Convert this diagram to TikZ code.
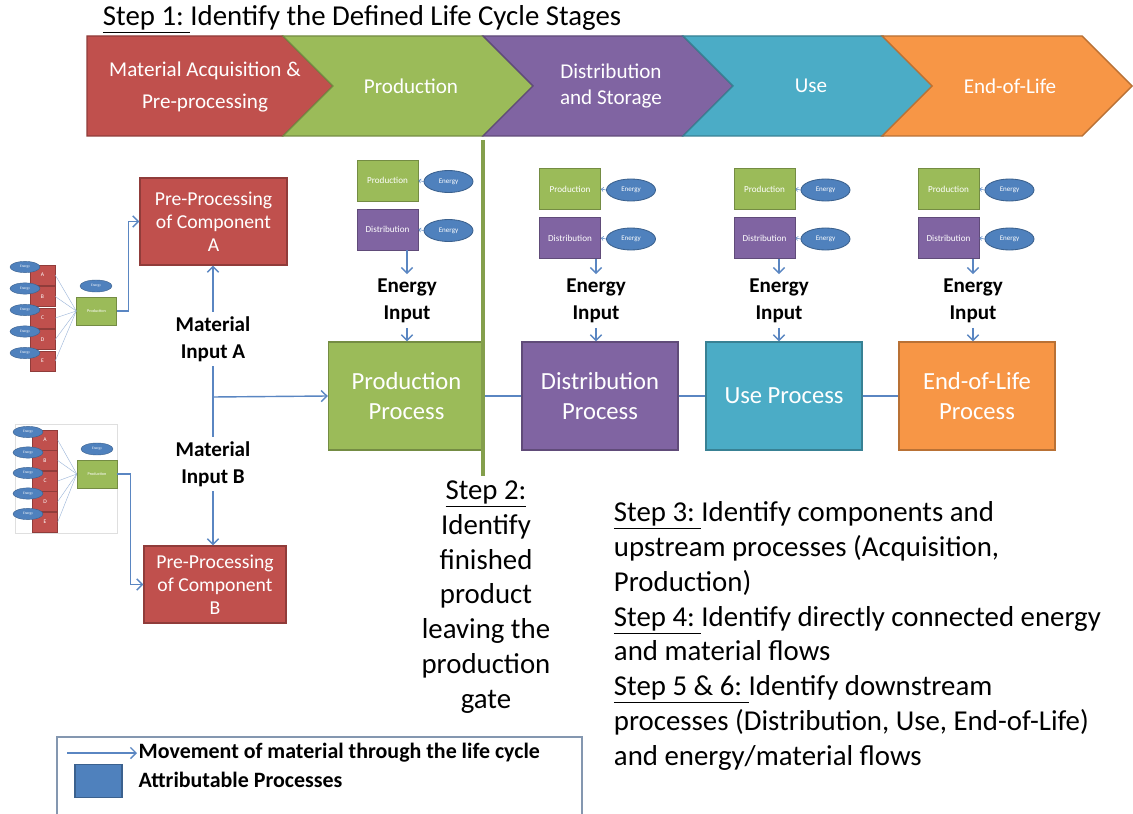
\documentclass[tikz,border=0pt]{standalone}
\usepackage{fontspec}
\setmainfont{Carlito}
\usetikzlibrary{arrows.meta,shapes.geometric}

% theme colours
\definecolor{stagered}{HTML}{C0504D}
\definecolor{stagegreen}{HTML}{9BBB59}
\definecolor{stagepurple}{HTML}{8064A2}
\definecolor{stagecyan}{HTML}{4BACC6}
\definecolor{stageorange}{HTML}{F79646}
\definecolor{procblue}{HTML}{4F81BD}
\definecolor{flowblue}{HTML}{5A86C2}
\definecolor{legendframe}{HTML}{8497B0}

\newcommand{\fsz}[2]{\fontsize{#1}{#2}\selectfont}

\begin{document}
\begin{tikzpicture}[x=0.025cm, y=-0.025cm,
    >={Straight Barb[length=4pt,width=8pt]},
    flowline/.style={draw=flowblue, line width=1pt},
    fanline/.style={draw=flowblue!60, line width=0.3pt},
    stagelabel/.style={text=white, align=center, font=\fsz{15}{18}},
    procbox/.style={draw=#1!75!black, fill=#1, line width=1pt, text=white,
        minimum width=3.9cm, minimum height=2.7cm, align=center, font=\fsz{17.5}{21.5}},
    prepbox/.style={draw=stagered!75!black, fill=stagered, line width=1pt, text=white,
        align=center, font=\fsz{14}{16.5}},
    minibox/.style={draw=#1!75!black, fill=#1, line width=0.6pt, text=white,
        minimum width=1.525cm, minimum height=1.025cm, inner sep=0pt, font=\fsz{6.5}{7}},
    minienergy/.style={ellipse, draw=procblue!75!black, fill=procblue, line width=0.6pt,
        text=white, minimum width=1.225cm, minimum height=0.55cm, inner sep=0pt, font=\fsz{5}{6}},
    tinybox/.style={draw=stagered!75!black, fill=stagered, line width=0.3pt, text=white,
        minimum width=0.625cm, minimum height=0.5cm, inner sep=0pt, font=\fsz{4}{4}},
    tinyprod/.style={draw=stagegreen!75!black, fill=stagegreen, line width=0.3pt, text=white,
        minimum width=1cm, minimum height=0.7cm, inner sep=0pt, font=\fsz{3}{3}},
    tinyenergy/.style={ellipse, draw=procblue!75!black, fill=procblue, line width=0.3pt,
        text=white, minimum width=0.75cm, minimum height=0.28cm, inner sep=0pt, font=\fsz{2.5}{3}},
    inputlabel/.style={align=center, font=\bfseries\fsz{15}{19}},
    steptext/.style={font=\fsz{20.5}{24.7}},
    legendtext/.style={anchor=west, font=\bfseries\fsz{15.6}{17}, inner sep=1pt}
  ]
  \useasboundingbox (0,0) rectangle (1133,814);
  \fill[white] (0,0) rectangle (1133,814);

  % Draw title and stage arrows
  \node[anchor=west, font=\fsz{20.5}{24}] (title) at (98,19)
    {\underline{Step 1:\ }Identify the Defined Life Cycle Stages};
  \draw[fill=stagered, draw=stagered!75!black, line width=1pt]
    (87,36) -- (283,36) -- (333,86) -- (283,136) -- (87,136) -- cycle;
  \node[stagelabel, font=\fsz{15}{23}] (stage1) at (205,87) {Material Acquisition \&\\Pre-processing};
  \foreach \a/\col/\nm/\txt in {283/stagegreen/stage2/Production,
      483/stagepurple/stage3/{Distribution\\and Storage},
      683/stagecyan/stage4/Use,
      882/stageorange/stage5/End-of-Life} {
    \draw[fill=\col, draw=\col!75!black, line width=1pt]
      (\a,36) -- (\a+200,36) -- (\a+250,86) -- (\a+200,136) -- (\a,136) -- (\a+50,86) -- cycle;
    \node[stagelabel] (\nm) at (\a+128,86) {\txt};
  }

  % Draw process chain
  \node[procbox=stagegreen] (prodproc) at (406.5,396) {Production\\Process};
  \node[procbox=stagepurple] (distproc) at (600,396) {Distribution\\Process};
  \node[procbox=stagecyan] (useproc) at (784,396) {Use Process};
  \node[procbox=stageorange] (eolproc) at (977,396) {End-of-Life\\Process};
  \draw[flowline] (prodproc.east) -- (distproc.west);
  \draw[flowline] (distproc.east) -- (useproc.west);
  \draw[flowline] (useproc.east) -- (eolproc.west);

  % Draw energy inputs above each process
  \foreach \mx/\my/\n/\ex/\p in {387.5/180.5/a/407/prodproc, 570/189/b/596/distproc,
      764.5/189/c/779/useproc, 948.5/189/d/973/eolproc} {
    \node[minibox=stagegreen] (mprod\n) at (\mx,\my) {Production};
    \node[minibox=stagepurple] (mdist\n) at (\mx,\my+49) {Distribution};
    \node[minienergy] (mprodE\n) at (\mx+61,\my+1) {Energy};
    \node[minienergy] (mdistE\n) at (\mx+61,\my+50) {Energy};
    \draw[flowline, line width=0.4pt, -{Straight Barb[length=1.5pt,width=3pt]}] (mprodE\n.west) -- (mprod\n.east);
    \draw[flowline, line width=0.4pt, -{Straight Barb[length=1.5pt,width=3pt]}] (mdistE\n.west) -- (mdist\n.east);
    \node[inputlabel] (ein\n) at (\ex,301) {Energy\\Input};
    \draw[flowline,->] (ein\n.north |- mdist\n.south) -- (ein\n.north);
    \draw[flowline,->] (ein\n.south) -- (ein\n.south |- \p.north);
  }

  % Draw material inputs
  \node[prepbox, minimum width=3.675cm, minimum height=2.175cm] (prepA) at (213.5,221.5)
    {Pre-Processing\\of Component\\A};
  \node[prepbox, minimum width=3.55cm, minimum height=1.925cm] (prepB) at (215,584.5)
    {Pre-Processing\\of Component\\B};
  \node[inputlabel] (matA) at (213,339) {Material\\Input A};
  \node[inputlabel] (matB) at (213,464) {Material\\Input B};
  \coordinate (matjoin) at (213,397);
  \draw[flowline,->] (matA.north) -- (prepA.south -| matA.north);
  \draw[flowline] (matA.south) -- (matB.north);
  \draw[flowline,->] (matjoin) -- (prodproc.west);
  \draw[flowline,->] (matB.south) -- (matB.south |- prepB.north);

  % Draw component sketches
  \draw[gray!25, line width=0.6pt] (15,424) rectangle (117,533);
  \node[tinyprod] (cprodA) at (96.5,311) {Production};
  \node[tinyprod] (cprodB) at (97,474) {Production};
  \node[tinyenergy, minimum width=0.8cm, minimum height=0.3cm] (cprodEA) at (96,286) {Energy};
  \node[tinyenergy, minimum width=0.8cm, minimum height=0.3cm] (cprodEB) at (97,449) {Energy};
  \foreach \l/\ya/\yb in {A/275/440, B/296.5/460.5, C/318/481, D/339.5/501.5, E/361/522} {
    \node[tinybox] (ca\l) at (42.5,\ya) {\l};
    \node[tinybox] (cb\l) at (45,\yb) {\l};
    \draw[fanline] (ca\l.east) -- (cprodA.west);
    \draw[fanline] (cb\l.east) -- (cprodB.west);
    \node[tinyenergy] (caE\l) at (25,\ya-8) {Energy};
    \node[tinyenergy] (cbE\l) at (28,\yb-8) {Energy};
  }
  \draw[flowline,->] (cprodA.east) -- ++(12,0) |- (prepA.west);
  \draw[flowline,->] (cprodB.east) -- ++(13,0) |- (prepB.west);

  % Draw production gate and step notes
  \coordinate (gatetop) at (483,140);
  \node[steptext, anchor=north, align=center] (step2) at (486,476)
    {\underline{Step 2:}\\Identify\\finished\\product\\leaving the\\production\\gate};
  \draw[stagegreen!85!black, line width=3.5pt] (gatetop) -- (gatetop |- step2.north);
  \node[steptext, anchor=north west, align=left] (step3) at (609,497)
    {\underline{Step 3:\ }Identify components and\\
     upstream processes (Acquisition,\\
     Production)\\
     \underline{Step 4:\ }Identify directly connected energy\\
     and material flows\\
     \underline{Step 5 \& 6:\ }Identify downstream\\
     processes (Distribution, Use, End-of-Life)\\
     and energy/material flows};

  % Draw legend
  \draw[legendframe, line width=1.2pt] (57,815) -- (57,737) -- (582,737) -- (582,815);
  \coordinate (legfrom) at (67,753);
  \node[legendtext] (legmove) at (137,753) {Movement of material through the life cycle};
  \draw[flowline,->] (legfrom) -- (legmove.west);
  \node[draw=procblue!75!black, fill=procblue, line width=1pt,
    minimum width=1.175cm, minimum height=0.825cm] (legproc) at (98.5,781) {};
  \node[legendtext] (legattr) at (137,780) {Attributable Processes};
\end{tikzpicture}
\end{document}
